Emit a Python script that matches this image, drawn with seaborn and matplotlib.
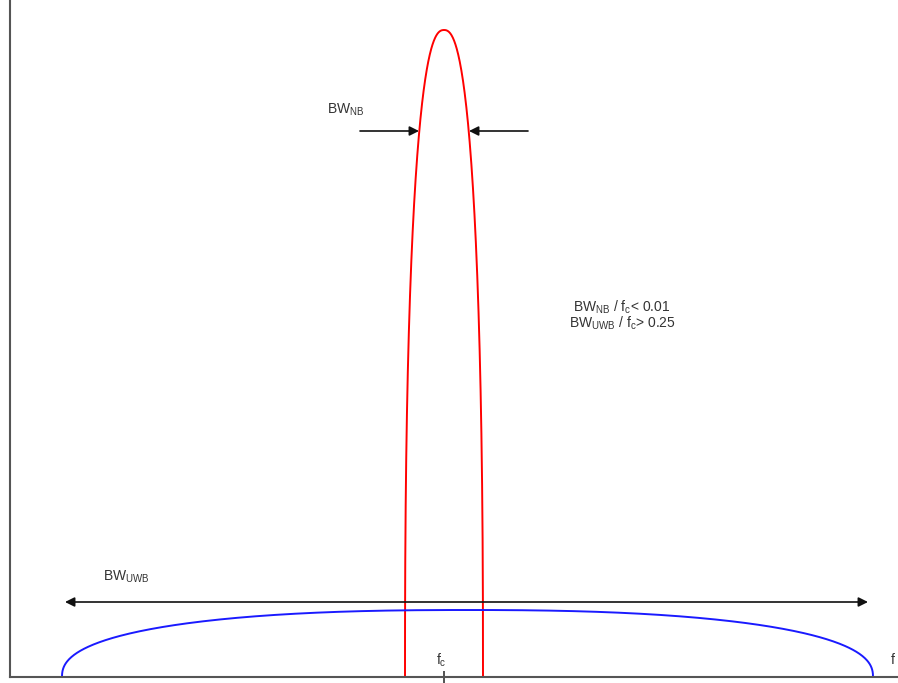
import numpy as np
import pandas as pd
import matplotlib
matplotlib.use("Agg")
import matplotlib.pyplot as plt
import seaborn as sns

# Frequenzachse in Bildpunkten ab dem Ursprung
fc = 434.0
x_max, y_max = 888.0, 677.0

# Schmalband (rot) und Ultrabreitband (blau): Mitte, halbe Breite, Hoehe
nb_mitte, nb_halb, nb_hoehe = 434.0, 39.0, 647.0
uwb_mitte, uwb_halb, uwb_hoehe = 457.5, 405.5, 67.0
form_exp = 2.4

# Pfeile
uwb_pfeil = (55.0, 858.0, 75.0)          # x links, x rechts, y
nb_pfeil_links = (350.0, 409.0, 546.0)   # von x, nach x, y
nb_pfeil_rechts = (518.0, 459.0, 546.0)

texte = [
    (317.0, 567.0, r"BW$_{\rm NB}$", "left"),
    (93.0, 100.0, r"BW$_{\rm UWB}$", "left"),
    (612.0, 370.0, r"BW$_{\rm NB}$ / f$_{\rm c}$< 0.01", "center"),
    (612.0, 354.0, r"BW$_{\rm UWB}$ / f$_{\rm c}$> 0.25", "center"),
    (431.0, 17.0, r"f$_{\rm c}$", "center"),
    (883.0, 17.0, "f", "center"),
]


def kurve(mitte, halb, hoehe, n, name):
    t = np.linspace(0, np.pi, 400)
    c, s = np.cos(t), np.sin(t)
    xx = mitte + halb * np.sign(c) * np.abs(c) ** (2 / n)
    yy = hoehe * np.abs(s) ** (2 / n)
    return pd.DataFrame({"x": xx, "y": yy, "band": name})


sns.set_style("white")
plt.rcParams["font.family"] = ["Liberation Sans", "DejaVu Sans"]
plt.rcParams["mathtext.fontset"] = "custom"
plt.rcParams["mathtext.rm"] = "Liberation Sans"

fig = plt.figure(figsize=(8.98, 6.83), dpi=100)
ax = fig.add_axes([10 / 898, 6 / 683, 888 / 898, 677 / 683])

df = pd.concat([kurve(nb_mitte, nb_halb, nb_hoehe, form_exp, "NB"),
                kurve(uwb_mitte, uwb_halb, uwb_hoehe, form_exp, "UWB")])
sns.lineplot(data=df[df.band == "NB"], x="x", y="y", sort=False, color="#ff0000",
             lw=1.4, ax=ax, clip_on=False)
sns.lineplot(data=df[df.band == "UWB"], x="x", y="y", sort=False, color="#1a1aff",
             lw=1.4, ax=ax, clip_on=False)

pfeil = dict(arrowstyle="-|>", color="#111111", lw=1.2, mutation_scale=14,
             shrinkA=0, shrinkB=0)
ax.annotate("", xy=(uwb_pfeil[0], uwb_pfeil[2]), xytext=(uwb_pfeil[1], uwb_pfeil[2]),
            arrowprops=dict(pfeil, arrowstyle="<|-|>"))
for p in [nb_pfeil_links, nb_pfeil_rechts]:
    ax.annotate("", xy=(p[1], p[2]), xytext=(p[0], p[2]), arrowprops=pfeil)

for x, y, s, ha in texte:
    ax.text(x, y, s, ha=ha, va="center", fontsize=10, color="#333333")

ax.set_xlim(0, x_max)
ax.set_ylim(0, y_max)
ax.set_xlabel("")
ax.set_ylabel("")
ax.set_xticks([fc])
ax.set_xticklabels([""])
ax.set_yticks([])
ax.tick_params(axis="x", direction="inout", length=9, width=1.3, color="#444444",
               bottom=True)
for k in ["top", "right"]:
    ax.spines[k].set_visible(False)
for k in ["left", "bottom"]:
    ax.spines[k].set_color("#555555")
    ax.spines[k].set_linewidth(1.5)

fig.savefig("out.png", dpi=100)
